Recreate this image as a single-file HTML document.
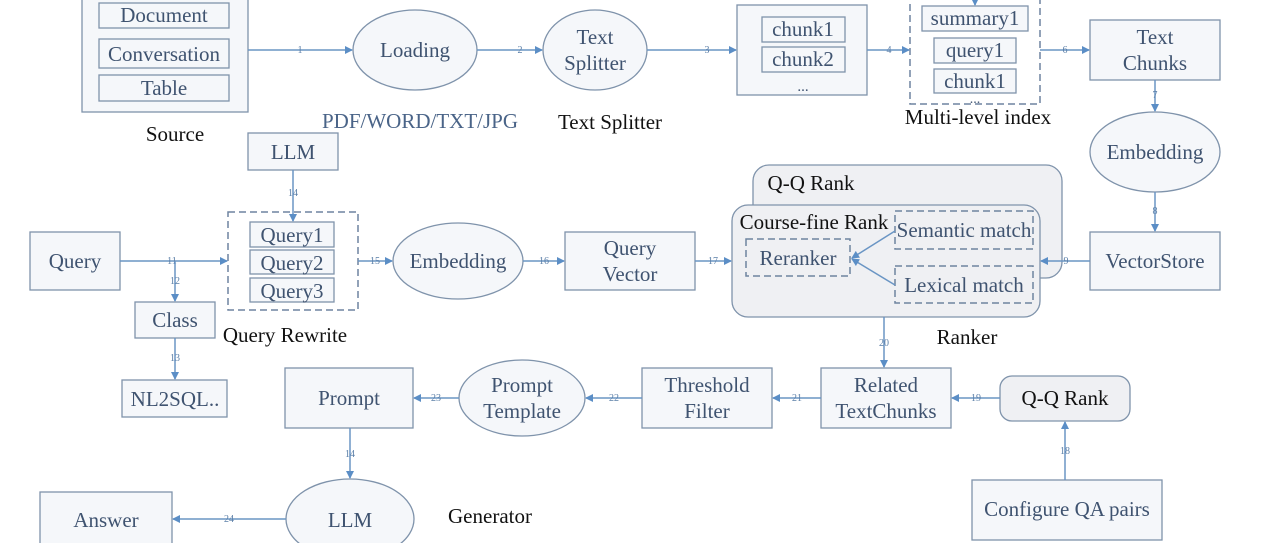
<!DOCTYPE html>
<html><head><meta charset="utf-8"><style>
html,body{margin:0;padding:0;background:#fff;}
svg{display:block;font-family:"Liberation Serif",serif;}
.b{fill:#f5f7fa;stroke:#7f93ab;stroke-width:1.3}
.d{fill:none;stroke:#6f84a0;stroke-width:1.5;stroke-dasharray:7 4}
.t{fill:#3f5370;font-size:21px;text-anchor:middle}
.k{fill:#111;font-size:21px;text-anchor:middle}
.n{fill:#5b7fa8;font-size:10px;text-anchor:middle}
.l{stroke:#6a95c4;stroke-width:1.5;fill:none;marker-end:url(#a)}
</style></head><body>
<svg width="1280" height="543" viewBox="0 0 1280 543">
<defs><marker id="a" markerWidth="8" markerHeight="8" refX="7" refY="4" orient="auto" markerUnits="userSpaceOnUse"><path d="M0,0 L8,4 L0,8z" fill="#5b8ec6"/></marker></defs>
<rect class="b" x="82" y="-5" width="166" height="117"/>
<rect class="b" x="99" y="3" width="130" height="25"/><text class="t" x="164" y="22">Document</text>
<rect class="b" x="99" y="39" width="130" height="29"/><text class="t" x="164" y="61">Conversation</text>
<rect class="b" x="99" y="75" width="130" height="26"/><text class="t" x="164" y="95">Table</text>
<text class="k" x="175" y="141">Source</text>
<line class="l" x1="248" y1="50" x2="352" y2="50"/><text class="n" x="300" y="53">1</text>
<ellipse class="b" cx="415" cy="50" rx="62" ry="40"/><text class="t" x="415" y="57">Loading</text>
<line class="l" x1="477" y1="50" x2="542" y2="50"/><text class="n" x="520" y="53">2</text>
<ellipse class="b" cx="595" cy="50" rx="52" ry="40"/><text class="t" x="595" y="44">Text</text><text class="t" x="595" y="70">Splitter</text>
<text class="t" x="420" y="128" style="fill:#4a6488">PDF/WORD/TXT/JPG</text>
<text class="k" x="610" y="129">Text Splitter</text>
<line class="l" x1="647" y1="50" x2="736" y2="50"/><text class="n" x="707" y="53">3</text>
<rect class="b" x="737" y="5" width="130" height="90"/>
<rect class="b" x="762" y="17" width="83" height="25"/><text class="t" x="803" y="36">chunk1</text>
<rect class="b" x="762" y="47" width="83" height="25"/><text class="t" x="803" y="66">chunk2</text>
<text class="t" x="803" y="91" style="font-size:15px">...</text>
<line class="l" x1="867" y1="50" x2="909" y2="50"/><text class="n" x="889" y="53">4</text>
<rect class="d" x="910" y="-5" width="130" height="109"/>
<line class="l" x1="975" y1="-2" x2="975" y2="5"/>
<rect class="b" x="922" y="6" width="106" height="25"/><text class="t" x="975" y="25">summary1</text>
<rect class="b" x="934" y="38" width="82" height="25"/><text class="t" x="975" y="57">query1</text>
<rect class="b" x="934" y="69" width="82" height="24"/><text class="t" x="975" y="88">chunk1</text>
<text class="t" x="975" y="103" style="font-size:14px">...</text>
<text class="k" x="978" y="124">Multi-level index</text>
<line class="l" x1="1040" y1="50" x2="1089" y2="50"/><text class="n" x="1065" y="53">6</text>
<rect class="b" x="1090" y="20" width="130" height="60"/><text class="t" x="1155" y="44">Text</text><text class="t" x="1155" y="70">Chunks</text>
<line class="l" x1="1155" y1="80" x2="1155" y2="111"/><text class="n" x="1155" y="98">7</text>
<ellipse class="b" cx="1155" cy="152" rx="65" ry="40"/><text class="t" x="1155" y="159">Embedding</text>
<line class="l" x1="1155" y1="192" x2="1155" y2="231"/><text class="n" x="1155" y="214">8</text>
<rect class="b" x="1090" y="232" width="130" height="58"/><text class="t" x="1155" y="268">VectorStore</text>
<rect x="753" y="165" width="309" height="113" rx="16" fill="#eff0f3" stroke="#7f93ab" stroke-width="1.3"/>
<text class="k" x="811" y="190">Q-Q Rank</text>
<rect x="732" y="205" width="308" height="112" rx="16" fill="#eff0f3" stroke="#7f93ab" stroke-width="1.3"/>
<text class="k" x="814" y="229">Course-fine Rank</text>
<rect class="d" x="746" y="239" width="104" height="37"/><text class="t" x="798" y="265">Reranker</text>
<rect class="d" x="895" y="211" width="138" height="38"/><text class="t" x="964" y="237">Semantic match</text>
<rect class="d" x="895" y="266" width="138" height="37"/><text class="t" x="964" y="292">Lexical match</text>
<line class="l" x1="895" y1="231" x2="852" y2="258"/>
<line class="l" x1="895" y1="285" x2="852" y2="259"/>
<line class="l" x1="1090" y1="261" x2="1041" y2="261"/><text class="n" x="1066" y="264">9</text>
<text class="k" x="967" y="344">Ranker</text>
<rect class="b" x="30" y="232" width="90" height="58"/><text class="t" x="75" y="268">Query</text>
<line class="l" x1="120" y1="261" x2="227" y2="261"/><text class="n" x="172" y="264">11</text>
<line class="l" x1="175" y1="261" x2="175" y2="301"/><text class="n" x="175" y="284">12</text>
<rect class="b" x="135" y="302" width="80" height="36"/><text class="t" x="175" y="327">Class</text>
<line class="l" x1="175" y1="338" x2="175" y2="379"/><text class="n" x="175" y="361">13</text>
<rect class="b" x="122" y="380" width="105" height="37"/><text class="t" x="175" y="406">NL2SQL..</text>
<rect class="b" x="248" y="133" width="90" height="37"/><text class="t" x="293" y="159">LLM</text>
<line class="l" x1="293" y1="170" x2="293" y2="221"/><text class="n" x="293" y="196">14</text>
<rect class="d" x="228" y="212" width="130" height="98"/>
<rect class="b" x="250" y="222" width="84" height="25"/><text class="t" x="292" y="242">Query1</text>
<rect class="b" x="250" y="250" width="84" height="24"/><text class="t" x="292" y="270">Query2</text>
<rect class="b" x="250" y="278" width="84" height="24"/><text class="t" x="292" y="298">Query3</text>
<text class="k" x="285" y="342">Query Rewrite</text>
<line class="l" x1="358" y1="261" x2="392" y2="261"/><text class="n" x="375" y="264">15</text>
<ellipse class="b" cx="458" cy="261" rx="65" ry="38"/><text class="t" x="458" y="268">Embedding</text>
<line class="l" x1="523" y1="261" x2="564" y2="261"/><text class="n" x="544" y="264">16</text>
<rect class="b" x="565" y="232" width="130" height="58"/><text class="t" x="630" y="255">Query</text><text class="t" x="630" y="281">Vector</text>
<line class="l" x1="695" y1="261" x2="731" y2="261"/><text class="n" x="713" y="264">17</text>
<line class="l" x1="884" y1="317" x2="884" y2="367"/><text class="n" x="884" y="346">20</text>
<rect class="b" x="821" y="368" width="130" height="60"/><text class="t" x="886" y="392">Related</text><text class="t" x="886" y="418">TextChunks</text>
<rect x="1000" y="376" width="130" height="45" rx="12" fill="#eff0f3" stroke="#7f93ab" stroke-width="1.3"/><text class="k" x="1065" y="405">Q-Q Rank</text>
<line class="l" x1="1000" y1="398" x2="952" y2="398"/><text class="n" x="976" y="401">19</text>
<rect class="b" x="972" y="480" width="190" height="60"/><text class="t" x="1067" y="516">Configure QA pairs</text>
<line class="l" x1="1065" y1="480" x2="1065" y2="422"/><text class="n" x="1065" y="454">18</text>
<line class="l" x1="821" y1="398" x2="773" y2="398"/><text class="n" x="797" y="401">21</text>
<rect class="b" x="642" y="368" width="130" height="60"/><text class="t" x="707" y="392">Threshold</text><text class="t" x="707" y="418">Filter</text>
<line class="l" x1="642" y1="398" x2="586" y2="398"/><text class="n" x="614" y="401">22</text>
<ellipse class="b" cx="522" cy="398" rx="63" ry="38"/><text class="t" x="522" y="392">Prompt</text><text class="t" x="522" y="418">Template</text>
<line class="l" x1="459" y1="398" x2="414" y2="398"/><text class="n" x="436" y="401">23</text>
<rect class="b" x="285" y="368" width="128" height="60"/><text class="t" x="349" y="405">Prompt</text>
<line class="l" x1="350" y1="428" x2="350" y2="478"/><text class="n" x="350" y="457">14</text>
<ellipse class="b" cx="350" cy="519" rx="64" ry="40"/><text class="t" x="350" y="527">LLM</text>
<text class="k" x="490" y="523">Generator</text>
<line class="l" x1="286" y1="519" x2="173" y2="519"/><text class="n" x="229" y="522">24</text>
<rect class="b" x="40" y="492" width="132" height="60"/><text class="t" x="106" y="527">Answer</text>
</svg>
</body></html>
